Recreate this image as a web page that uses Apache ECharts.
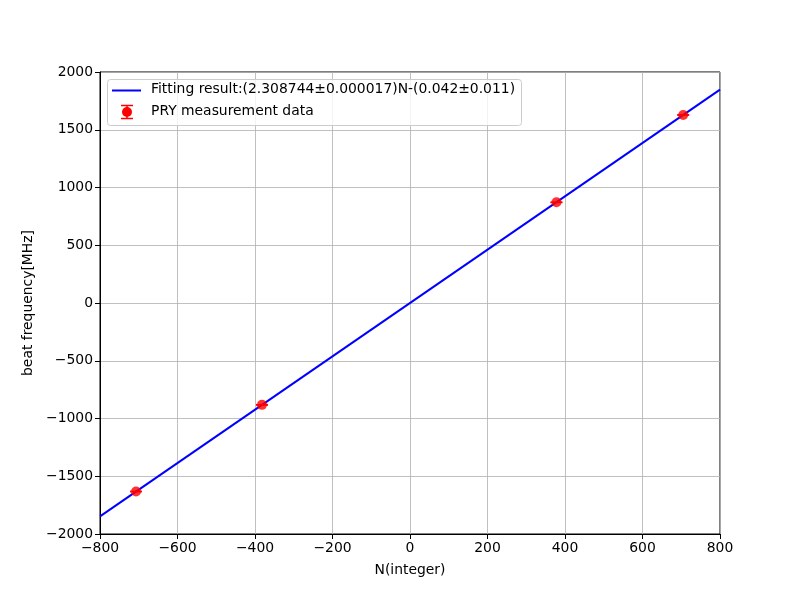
<!DOCTYPE html>
<html><head><meta charset="utf-8">
<script src="https://cdn.jsdelivr.net/npm/echarts@6/dist/echarts.min.js"></script>
<style>html,body{margin:0;padding:0;background:#fff}#c{width:800px;height:600px}</style>
</head><body><div id="c"></div>
<script>
const nValues = [-707, -382, 378, 705];
const freqValues = [-1632, -882, 872, 1628];
const freqErr = [3, 3, 3, 3];
const fitSlope = 2.308744;
const fitOffset = 0.042;
const fitRangeN = [-800, 800];
const fitLabel = 'Fitting result:(2.308744\u00b10.000017)N-(0.042\u00b10.011)';
const dataLabel = 'PRY measurement data';
const xTitle = 'N(integer)';
const yTitle = 'beat frequency[MHz]';

const fitLine = fitRangeN.map(n => [n, fitSlope * n - fitOffset]);
const points = nValues.map((n, i) => [n, freqValues[i]]);
const errData = nValues.map((n, i) => [n, freqValues[i] - freqErr[i], freqValues[i] + freqErr[i]]);

const font = 'DejaVu Sans';
const fs = 13.9;
const fmt = v => String(v).replace('-', '\u2212');
const chart = echarts.init(document.getElementById('c'), null, {renderer: 'canvas'});
chart.setOption({
  animation: false,
  backgroundColor: '#fff',
  grid: {left: 100, right: 80, top: 72, bottom: 66, show: true, borderColor: '#000', borderWidth: 1, backgroundColor: 'transparent'},
  xAxis: {
    type: 'value', min: -800, max: 800, interval: 200,
    name: xTitle, nameLocation: 'middle', nameGap: 29,
    nameTextStyle: {fontFamily: font, fontSize: fs, color: '#000'},
    axisLine: {show: true, onZero: false, lineStyle: {color: '#000', width: 1}},
    axisTick: {show: true, inside: false, length: 5, lineStyle: {color: '#000'}},
    axisLabel: {fontFamily: font, fontSize: fs, color: '#000', margin: 7, formatter: fmt},
    splitLine: {show: true, lineStyle: {color: '#b0b0b0', width: 0.8}}
  },
  yAxis: {
    type: 'value', min: -2000, max: 2000, interval: 500,
    name: yTitle, nameLocation: 'middle', nameGap: 60, nameRotate: 90,
    nameTextStyle: {fontFamily: font, fontSize: fs, color: '#000'},
    axisLine: {show: true, onZero: false, lineStyle: {color: '#000', width: 1}},
    axisTick: {show: true, inside: false, length: 5, lineStyle: {color: '#000'}},
    axisLabel: {fontFamily: font, fontSize: fs, color: '#000', margin: 7, formatter: fmt},
    splitLine: {show: true, lineStyle: {color: '#b0b0b0', width: 0.8}}
  },
  series: [
    {
      name: fitLabel, type: 'line', data: fitLine, showSymbol: false, symbol: 'none',
      lineStyle: {color: '#0000ff', width: 2}, z: 2
    },
    {
      name: dataLabel + ' err', type: 'custom', data: errData, z: 3,
      renderItem: function (params, api) {
        const x = api.value(0);
        const lo = api.coord([x, api.value(1)]);
        const hi = api.coord([x, api.value(2)]);
        const cap = 6;
        const st = {stroke: '#ff0000', lineWidth: 1.2};
        return {type: 'group', children: [
          {type: 'line', shape: {x1: lo[0], y1: lo[1], x2: hi[0], y2: hi[1]}, style: st},
          {type: 'line', shape: {x1: lo[0] - cap, y1: lo[1], x2: lo[0] + cap, y2: lo[1]}, style: st},
          {type: 'line', shape: {x1: hi[0] - cap, y1: hi[1], x2: hi[0] + cap, y2: hi[1]}, style: st}
        ]};
      }
    },
    {
      name: dataLabel, type: 'scatter', data: points, symbol: 'circle', symbolSize: 10,
      itemStyle: {color: '#ff0000'}, z: 4
    }
  ],
  graphic: [
    {type: 'rect', shape: {x: 107.5, y: 79.5, width: 414, height: 46, r: 3},
      style: {fill: 'rgba(255,255,255,0.8)', stroke: '#cccccc', lineWidth: 1}, z: 100},
    {type: 'line', shape: {x1: 112, y1: 90.5, x2: 141, y2: 90.5},
      style: {stroke: '#0000ff', lineWidth: 2}, z: 101},
    {type: 'text', left: 151, top: 82, style: {text: fitLabel, fontFamily: font, fontSize: fs, fill: '#000'}, z: 101},
    {type: 'line', shape: {x1: 127, y1: 105.5, x2: 127, y2: 118.5}, style: {stroke: '#ff0000', lineWidth: 1.5}, z: 101},
    {type: 'line', shape: {x1: 121, y1: 105.5, x2: 133, y2: 105.5}, style: {stroke: '#ff0000', lineWidth: 1.5}, z: 101},
    {type: 'line', shape: {x1: 121, y1: 118.5, x2: 133, y2: 118.5}, style: {stroke: '#ff0000', lineWidth: 1.5}, z: 101},
    {type: 'circle', shape: {cx: 127, cy: 112, r: 5}, style: {fill: '#ff0000'}, z: 101},
    {type: 'text', left: 151, top: 104, style: {text: dataLabel, fontFamily: font, fontSize: fs, fill: '#000'}, z: 101}
  ]
});
</script>
</body></html>
